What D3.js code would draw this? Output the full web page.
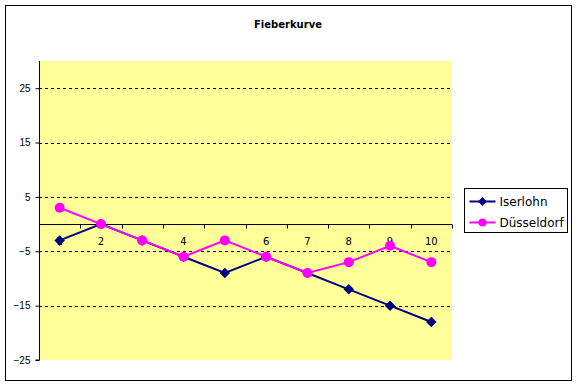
<!DOCTYPE html>
<html>
<head>
<meta charset="utf-8">
<script src="https://cdn.jsdelivr.net/npm/d3@7"></script>
<style>
  body { margin: 0; background: #fff; }
  svg { display: block; font-family: Tahoma, "DejaVu Sans", sans-serif; }
</style>
</head>
<body>
<div class="container"></div>
<script>
(function(d3) {
  "use strict";

  var title = "Fieberkurve";
  var categories = ["1", "2", "3", "4", "5", "6", "7", "8", "9", "10"];
  var iserlohn = [-3, 0, -3, -6, -9, -6, -9, -12, -15, -18];
  var duesseldorf = [3, 0, -3, -6, -3, -6, -9, -7, -4, -7];
  var yTicks = [25, 15, 5, -5, -15, -25];
  var seriesNames = ["Iserlohn", "Düsseldorf"];
  var seriesColors = ["#000080", "#ff00ff"];

  var width = 577, height = 385;

  var svg = d3.select(".container").append("svg")
      .attr("width", width)
      .attr("height", height);

  // chart border
  svg.append("rect")
      .attr("x", 5.5).attr("y", 5.5)
      .attr("width", 566).attr("height", 375)
      .attr("fill", "#fff")
      .attr("stroke", "#000")
      .attr("stroke-width", 1);

  svg.append("text")
      .attr("x", 288).attr("y", 28)
      .attr("text-anchor", "middle")
      .style("font-size", "10px")
      .style("font-weight", "bold")
      .text(title);

  var x = d3.scaleBand().domain(categories).range([39, 452]);
  var y = d3.scaleLinear().domain([-25, 30]).range([360, 61]);

  var plot = svg.append("g");

  plot.append("rect")
      .attr("x", x.range()[0]).attr("y", y(30))
      .attr("width", x.range()[1] - x.range()[0])
      .attr("height", y(-25) - y(30))
      .attr("fill", "#ffff99");

  // dashed gridlines
  plot.selectAll(".grid")
      .data(yTicks.filter(function(d) { return d !== -25; }))
    .enter().append("line")
      .attr("class", "grid")
      .attr("x1", x.range()[0]).attr("x2", x.range()[1])
      .attr("y1", function(d) { return Math.round(y(d)) + 0.5; })
      .attr("y2", function(d) { return Math.round(y(d)) + 0.5; })
      .attr("stroke", "#000")
      .attr("stroke-dasharray", "3,3");

  // y axis
  var yAxis = d3.axisLeft(y).tickValues(yTicks).tickSize(4).tickPadding(5);
  var yg = plot.append("g")
      .attr("transform", "translate(39.5,0)")
      .call(yAxis);
  yg.select(".domain").attr("d", "M-4," + y(-25) + "H0V" + y(30));
  yg.selectAll("text").style("font-size", "10px").attr("fill", "#000");

  // category axis crossing at 0
  var y0 = Math.round(y(0)) + 0.5;
  plot.append("line")
      .attr("x1", x.range()[0]).attr("x2", x.range()[1])
      .attr("y1", y0).attr("y2", y0)
      .attr("stroke", "#000");

  plot.selectAll(".xtick")
      .data(categories.slice(1).concat(["end"]))
    .enter().append("line")
      .attr("class", "xtick")
      .attr("x1", function(d, i) { return Math.round(x.range()[0] + (i + 1) * x.step()) + 0.5; })
      .attr("x2", function(d, i) { return Math.round(x.range()[0] + (i + 1) * x.step()) + 0.5; })
      .attr("y1", y0).attr("y2", y0 + 4)
      .attr("stroke", "#000");

  plot.selectAll(".xlabel")
      .data(categories)
    .enter().append("text")
      .attr("class", "xlabel")
      .attr("x", function(d) { return x(d) + x.bandwidth() / 2; })
      .attr("y", y0 + 20)
      .attr("text-anchor", "middle")
      .style("font-size", "10px")
      .text(function(d) { return d; });

  var line = d3.line()
      .x(function(d, i) { return x(categories[i]) + x.bandwidth() / 2; })
      .y(function(d) { return y(d); });

  var diamond = d3.symbol().type(d3.symbolDiamond2).size(70);

  function drawSeries(values, color, shape) {
    var g = plot.append("g");
    g.append("path")
        .datum(values)
        .attr("d", line)
        .attr("fill", "none")
        .attr("stroke", color)
        .attr("stroke-width", 2);
    var pts = g.selectAll(".pt")
        .data(values)
      .enter();
    if (shape === "diamond") {
      pts.append("path")
          .attr("d", diamond)
          .attr("transform", function(d, i) {
            return "translate(" + (x(categories[i]) + x.bandwidth() / 2) + "," + y(d) + ")";
          })
          .attr("fill", color);
    } else {
      pts.append("circle")
          .attr("cx", function(d, i) { return x(categories[i]) + x.bandwidth() / 2; })
          .attr("cy", function(d) { return y(d); })
          .attr("r", 5)
          .attr("fill", color);
    }
  }

  drawSeries(iserlohn, seriesColors[0], "diamond");
  drawSeries(duesseldorf, seriesColors[1], "circle");

  // legend
  var legend = svg.append("g").attr("transform", "translate(464.5,188.5)");
  legend.append("rect")
      .attr("width", 103).attr("height", 44)
      .attr("fill", "#fff")
      .attr("stroke", "#000");

  var items = legend.selectAll(".item")
      .data(seriesNames)
    .enter().append("g")
      .attr("transform", function(d, i) { return "translate(0," + (13 + i * 21) + ")"; });

  items.append("line")
      .attr("x1", 5).attr("x2", 31)
      .attr("stroke", function(d, i) { return seriesColors[i]; })
      .attr("stroke-width", 2);

  items.each(function(d, i) {
    var it = d3.select(this);
    if (i === 0) {
      it.append("path")
          .attr("d", d3.symbol().type(d3.symbolDiamond2).size(50))
          .attr("transform", "translate(18,0)")
          .attr("fill", seriesColors[i]);
    } else {
      it.append("circle")
          .attr("cx", 18).attr("r", 4)
          .attr("fill", seriesColors[i]);
    }
  });

  items.append("text")
      .attr("x", 35).attr("y", 4)
      .style("font-size", "12px")
      .text(function(d) { return d; });

}(d3));
</script>
</body>
</html>
